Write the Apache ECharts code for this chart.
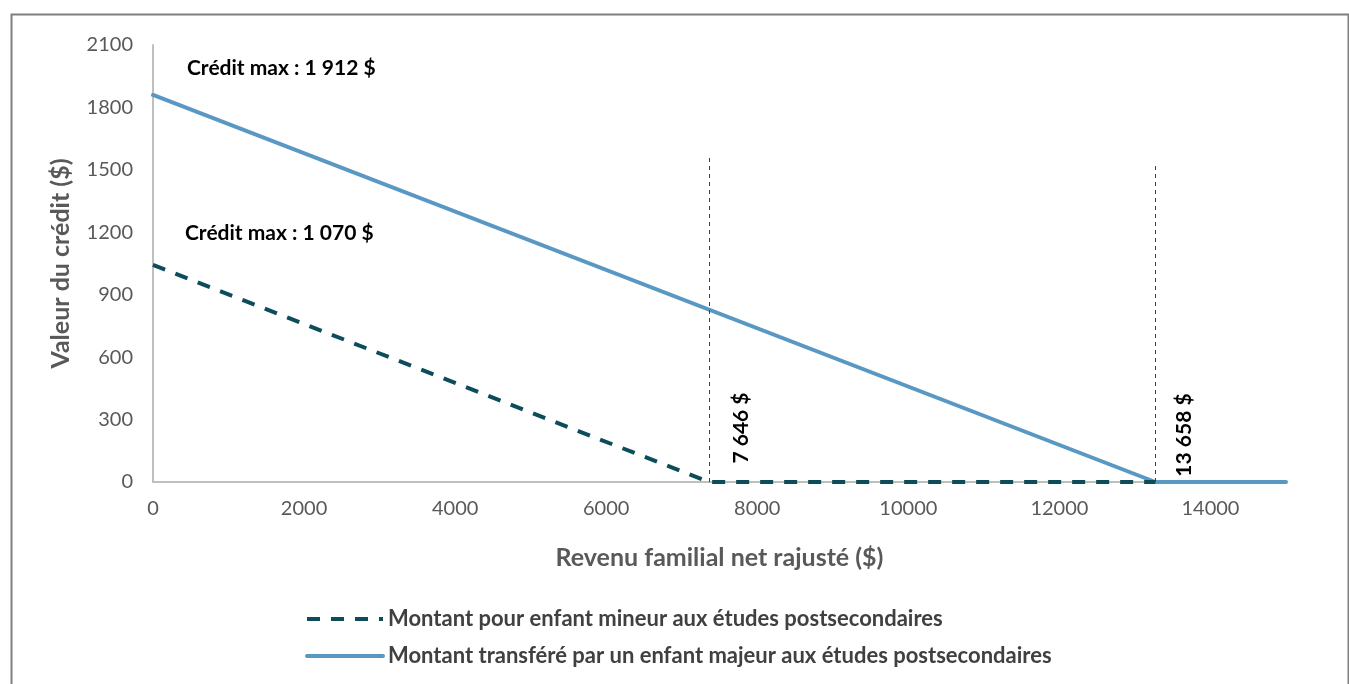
<!DOCTYPE html>
<html>
<head>
<meta charset="utf-8">
<script src="https://cdn.jsdelivr.net/npm/echarts@6/dist/echarts.min.js"></script>
<style>
html,body{margin:0;padding:0;background:#fff;}
#c{width:1349px;height:684px;}
</style>
</head>
<body>
<div id="c"></div>
<script>
// ---- data ----
const seriesNames = [
  'Montant pour enfant mineur aux études postsecondaires',
  'Montant transféré par un enfant majeur aux études postsecondaires'
];
const minorX = [0, 7360, 13270];
const minorY = [1043, 0, 0];
const majorX = [0, 13270, 15000];
const majorY = [1860, 0, 0];
const thresholdX = [7360, 13270];
const thresholdTop = [1562, 1533];
const thresholdLabels = ['7 646 $', '13 658 $'];
const maxLabels = ['Crédit max : 1 912 $', 'Crédit max : 1 070 $'];
const xMin = 0, xMax = 15000, xStep = 2000;
const yMin = 0, yMax = 2100, yStep = 300;
const xTitle = 'Revenu familial net rajusté ($)';
const yTitle = 'Valeur du crédit ($)';

const FONT = 'Lato, "Noto Sans", sans-serif';
const pairs = (xs, ys) => xs.map((x, i) => [x, ys[i]]);
const plain = v => String(v);

const chart = echarts.init(document.getElementById('c'));
const option = {
  animation: false,
  backgroundColor: '#fff',
  textStyle: { fontFamily: FONT },
  grid: { left: 153, right: 63, top: 45, bottom: 202 },
  xAxis: {
    type: 'value', min: xMin, max: xMax, interval: xStep,
    axisLine: { show: true, lineStyle: { color: '#bfbfbf', width: 2 } },
    axisTick: { show: false },
    splitLine: { show: false },
    axisLabel: { color: '#595959', fontSize: 20, fontFamily: FONT, margin: 17, showMaxLabel: false, formatter: plain },
    name: xTitle, nameLocation: 'middle', nameGap: 63,
    nameTextStyle: { color: '#595959', fontSize: 25, fontWeight: 'bold', fontFamily: FONT }
  },
  yAxis: {
    type: 'value', min: yMin, max: yMax, interval: yStep,
    axisLine: { show: true, lineStyle: { color: '#bfbfbf', width: 2 } },
    axisTick: { show: false },
    splitLine: { show: false },
    axisLabel: { color: '#595959', fontSize: 20, fontFamily: FONT, margin: 20, formatter: plain },
    name: yTitle, nameLocation: 'middle', nameGap: 80,
    nameTextStyle: { color: '#595959', fontSize: 25, fontWeight: 'bold', fontFamily: FONT }
  },
  legend: {
    orient: 'vertical', left: 300, top: 603,
    itemWidth: 76, itemHeight: 14, itemGap: 15,
    itemStyle: { opacity: 0 },
    lineStyle: { width: 4 },
    textStyle: { color: '#404040', fontSize: 22, fontWeight: 'bold', fontFamily: FONT },
    data: seriesNames
  },
  series: [
    {
      name: seriesNames[0], type: 'line', showSymbol: false, symbol: 'none',
      data: pairs(minorX, minorY), z: 3,
      lineStyle: { color: '#0d4c5b', width: 4, type: [13, 11], cap: 'butt' },
      itemStyle: { color: '#0d4c5b' },
      markLine: {
        silent: true, symbol: 'none', label: { show: false },
        lineStyle: { color: '#404040', width: 1, type: [4, 4] },
        data: thresholdX.map((x, i) => [{ coord: [x, 0] }, { coord: [x, thresholdTop[i]] }])
      }
    },
    {
      name: seriesNames[1], type: 'line', showSymbol: false, symbol: 'none',
      data: pairs(majorX, majorY), z: 2,
      lineStyle: { color: '#5a98c4', width: 4, cap: 'round' },
      itemStyle: { color: '#5a98c4' }
    }
  ],
  graphic: [
    { type: 'rect', left: 9, top: 12, shape: { width: 1337, height: 680 }, silent: true,
      style: { fill: 'none', stroke: '#7f7f7f', lineWidth: 2 } },
    { type: 'text', left: 187, top: 58, style: { text: maxLabels[0], fill: '#000', font: 'bold 21px ' + FONT } },
    { type: 'text', left: 185, top: 223, style: { text: maxLabels[1], fill: '#000', font: 'bold 21px ' + FONT } },
    { type: 'text', x: 741, y: 428, rotation: Math.PI / 2,
      style: { text: thresholdLabels[0], fill: '#000', font: 'bold 21px ' + FONT, align: 'center', verticalAlign: 'middle' } },
    { type: 'text', x: 1184, y: 435, rotation: Math.PI / 2,
      style: { text: thresholdLabels[1], fill: '#000', font: 'bold 21px ' + FONT, align: 'center', verticalAlign: 'middle' } }
  ]
};
chart.setOption(option);
</script>
</body>
</html>
